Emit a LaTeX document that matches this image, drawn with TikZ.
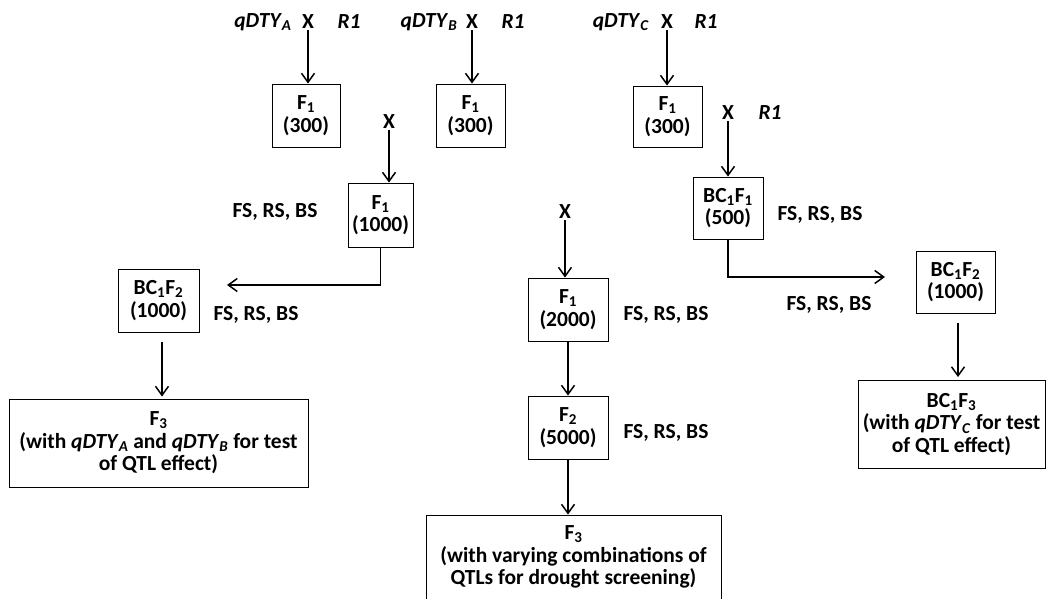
\documentclass[tikz,border=0pt]{standalone}
\usepackage{fontspec}
\setmainfont{Carlito}
\usetikzlibrary{arrows.meta}

\newcommand{\qdty}[1]{\textit{qDTY}\textsubscript{\textit{#1}}}

\begin{document}
\begin{tikzpicture}[x=1pt, y=-1pt,
  font=\fontsize{21.5}{22.5}\selectfont\bfseries,
  gen/.style 2 args={draw, line width=0.9pt, align=center, inner sep=0pt, minimum width=#1, minimum height=#2},
  lab/.style={inner sep=1pt},
  arr/.style={line width=1.5pt, -{Straight Barb[length=9pt,width=13pt]}}]
  \useasboundingbox (0,0) rectangle (1046,599);

  % Cross A
  \node[lab] (qA) at (263,22) {\qdty{A}};
  \node[lab] (xA) at (308,22) {X};
  \node[lab] (rA) at (349,22) {\textit{R1}};
  \node[gen={68}{63}] (fA) at (306,115.5) {F\textsubscript{1}\\(300)};
  \draw[arr] (xA.south) -- (xA.south |- fA.north);

  % Cross B
  \node[lab] (qB) at (429,22) {\qdty{B}};
  \node[lab] (xB) at (472,22) {X};
  \node[lab] (rB) at (513,22) {\textit{R1}};
  \node[gen={69}{63}] (fB) at (470.5,115.5) {F\textsubscript{1}\\(300)};
  \draw[arr] (xB.south) -- (xB.south |- fB.north);

  % Cross C
  \node[lab] (qC) at (621,22) {\qdty{C}};
  \node[lab] (xC) at (667,22) {X};
  \node[lab] (rC) at (706,22) {\textit{R1}};
  \node[gen={69}{61}] (fC) at (667.5,116.5) {F\textsubscript{1}\\(300)};
  \draw[arr] (xC.south) -- (xC.south |- fC.north);

  % Intercross of A and B
  \node[lab] (xAB) at (389,122) {X};
  \node[gen={65}{64}] (fAB) at (380.5,215) {F\textsubscript{1}\\(1000)};
  \node[lab] (sAB) at (275,212) {FS, RS, BS};
  \draw[arr] (xAB.south) -- (xAB.south |- fAB.north);
  \coordinate (tipL) at (227,285);
  \draw[arr] (fAB.south) |- (tipL);
  \node[gen={81}{63}] (bcL) at (158.5,300.5) {BC\textsubscript{1}F\textsubscript{2}\\(1000)};
  \node[lab] (sL) at (256,315) {FS, RS, BS};
  \node[gen={299}{88}] (fL) at (158.5,443) {F\textsubscript{3}\\(with \qdty{A} and \qdty{B} for test\\of QTL effect)};
  \coordinate (startL) at ([xshift=3.5pt,yshift=-10pt]bcL.south);
  \draw[arr] (startL) -- ([yshift=2pt]startL |- fL.north);

  % Backcross of C
  \node[lab] (xD) at (728,113) {X};
  \node[lab] (rD) at (770,113) {\textit{R1}};
  \node[gen={70}{62}] (bc1) at (728,208) {BC\textsubscript{1}F\textsubscript{1}\\(500)};
  \node[lab] (s1) at (820,215) {FS, RS, BS};
  \draw[arr] (xD.south) -- (xD.south |- bc1.north);
  \coordinate (tipR) at (885,277);
  \draw[arr] (bc1.south) |- (tipR);
  \node[lab] (s2) at (829,305) {FS, RS, BS};
  \node[gen={79}{62}] (bcR) at (955.5,282) {BC\textsubscript{1}F\textsubscript{2}\\(1000)};
  \node[gen={187}{88}] (bc3) at (951.5,424.5) {BC\textsubscript{1}F\textsubscript{3}\\(with \qdty{C} for test\\of QTL effect)};
  \coordinate (startR) at ([xshift=2.5pt,yshift=-10pt]bcR.south);
  \draw[arr] (startR) -- ([yshift=3pt]startR |- bc3.north);

  % Middle line
  \node[lab] (xM) at (565,212) {X};
  \node[gen={80}{63}] (fM1) at (568,309.5) {F\textsubscript{1}\\(2000)};
  \node[lab] (sM1) at (666,315) {FS, RS, BS};
  \node[gen={80}{63}] (fM2) at (568,427.5) {F\textsubscript{2}\\(5000)};
  \node[lab] (sM2) at (666,433) {FS, RS, BS};
  \node[gen={295}{84}] (fM3) at (573.5,557) {F\textsubscript{3}\\(with varying combinations of\\QTLs for drought screening)};
  \draw[arr] (xM.south) -- (xM.south |- fM1.north);
  \draw[arr] (fM1.south) -- (fM2.north);
  \draw[arr] (fM2.south) -- (fM2.south |- fM3.north);
\end{tikzpicture}
\end{document}
